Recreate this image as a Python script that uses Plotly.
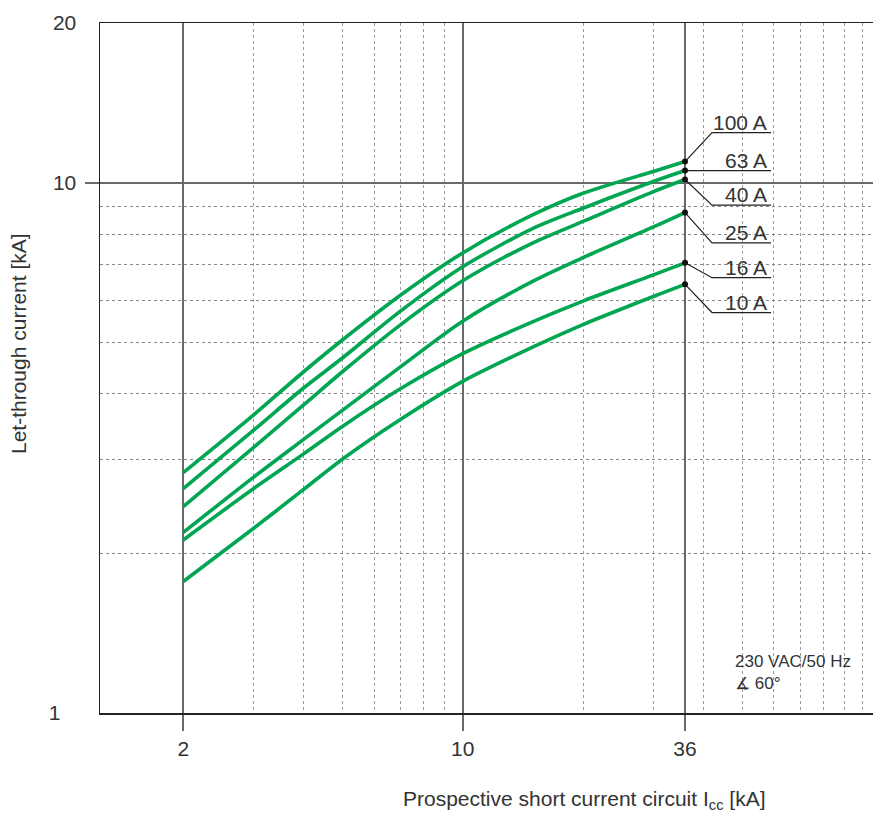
import math
import plotly.graph_objects as go

# ---------------- data ----------------
x_kA = [2, 3, 4, 5, 7, 10, 15, 20, 30, 36]
ratings = ["100 A", "63 A", "40 A", "25 A", "16 A", "10 A"]
i_100 = [2.84, 3.65, 4.40, 5.05, 6.14, 7.37, 8.70, 9.55, 10.50, 10.96]
i_63 = [2.65, 3.415, 4.10, 4.67, 5.73, 6.94, 8.20, 8.95, 10.05, 10.54]
i_40 = [2.45, 3.17, 3.81, 4.40, 5.40, 6.53, 7.70, 8.45, 9.62, 10.14]
i_25 = [2.19, 2.785, 3.28, 3.72, 4.50, 5.48, 6.52, 7.22, 8.25, 8.78]
i_16 = [2.12, 2.65, 3.08, 3.47, 4.09, 4.76, 5.47, 5.98, 6.70, 7.06]
i_10 = [1.77, 2.23, 2.64, 3.01, 3.58, 4.22, 4.90, 5.40, 6.10, 6.43]
series = [i_100, i_63, i_40, i_25, i_16, i_10]

x_tickvals = [2, 10, 36]
x_ticktext = ["2", "10", "36"]
x_minor = [3, 4, 5, 6, 7, 8, 9, 20, 30, 40, 50, 60, 70, 80, 90, 100]
y_tickvals = [1, 10, 20]
y_ticktext = ["1\u2007\u2009", "10", "20"]
y_minor = [2, 3, 4, 5, 6, 7, 8, 9]

# ---------------- layout constants ----------------
W, H = 873, 814
ML, MR, MT, MB = 100, 0, 23, 101
PW, PH = W - ML - MR, H - MT - MB
PX_PER_DEC_X = 399.7
XR = [math.log10(2) - (183.3 - ML) / PX_PER_DEC_X, 0]
XR[1] = XR[0] + PW / PX_PER_DEC_X
YR = [0, math.log10(20)]

def px_to_x(px):
    return 10 ** (XR[0] + (px - ML) / PW * (XR[1] - XR[0]))

def paper_x(px):
    return (px - ML) / PW

def paper_y(py):
    return (H - MB - py) / PH

# label layout (levels in kA on the y scale, pixel extents for underline)
label_level = [12.43, 10.54, 9.07, 7.70, 6.62, 5.69]
LEAD_END_PX, UNDER_END_PX = 712, 771

FONT = "Liberation Sans, Arial, Helvetica, sans-serif"
TXT = "#333333"
GREEN = "#00a651"

fig = go.Figure()

for s, name in zip(series, ratings):
    fig.add_trace(go.Scatter(
        x=x_kA, y=s, mode="lines", name=name,
        line=dict(color=GREEN, width=3.6, shape="spline", smoothing=0.8),
        hoverinfo="skip", showlegend=False))

# leader lines from each curve end to its label underline
for s, lvl in zip(series, label_level):
    fig.add_trace(go.Scatter(
        x=[x_kA[-1], px_to_x(LEAD_END_PX), px_to_x(UNDER_END_PX)],
        y=[s[-1], lvl, lvl], mode="lines",
        line=dict(color="#222222", width=1.2),
        hoverinfo="skip", showlegend=False))

# end dots
fig.add_trace(go.Scatter(
    x=[x_kA[-1]] * len(series), y=[s[-1] for s in series], mode="markers",
    marker=dict(color="#111111", size=6), yaxis="y2",
    hoverinfo="skip", showlegend=False))

annotations = []
for name, lvl in zip(ratings, label_level):
    annotations.append(dict(
        xref="paper", yref="paper", x=paper_x(UNDER_END_PX - 2),
        y=(math.log10(lvl) - YR[0]) / (YR[1] - YR[0]),
        text=name, showarrow=False, xanchor="right", yanchor="bottom",
        font=dict(family=FONT, size=21, color=TXT), yshift=-3))

annotations.append(dict(
    xref="paper", yref="paper", x=paper_x(733), y=paper_y(650),
    text="230 VAC/50 Hz<br>\u2221 60°", showarrow=False, xanchor="left",
    yanchor="top", align="left", font=dict(family=FONT, size=17, color=TXT)))

annotations.append(dict(
    xref="paper", yref="paper", x=paper_x(584), y=paper_y(800),
    text="Prospective short current circuit I<sub>cc</sub> [kA]",
    showarrow=False, xanchor="center", yanchor="middle",
    font=dict(family=FONT, size=21, color=TXT)))

annotations.append(dict(
    xref="paper", yref="paper", x=paper_x(18), y=paper_y(344),
    text="Let-through current [kA]", textangle=-90,
    showarrow=False, xanchor="center", yanchor="middle",
    font=dict(family=FONT, size=21, color=TXT)))

shapes = [
    dict(type="rect", xref="paper", yref="paper", layer="between",
         x0=paper_x(699), x1=paper_x(775), y0=paper_y(322), y1=paper_y(105),
         fillcolor="white", line=dict(width=0)),
    dict(type="rect", xref="paper", yref="paper", layer="between",
         x0=paper_x(728), x1=paper_x(873), y0=paper_y(697), y1=paper_y(645),
         fillcolor="white", line=dict(width=0)),
]

fig.update_layout(
    width=W, height=H, margin=dict(l=ML, r=MR, t=MT, b=MB),
    paper_bgcolor="white", plot_bgcolor="white",
    font=dict(family=FONT, size=21, color=TXT),
    annotations=annotations, shapes=shapes,
    xaxis=dict(
        type="log", range=XR, tickmode="array", tickvals=x_tickvals,
        ticktext=x_ticktext, ticks="outside", ticklen=16, tickwidth=2,
        tickcolor="#6a6a6a", showgrid=True, gridcolor="#6a6a6a", gridwidth=2,
        showline=True, linecolor="#222222", linewidth=1.5, mirror=True,
        zeroline=False, tickfont=dict(family=FONT, size=21, color=TXT),
        minor=dict(tickmode="array", tickvals=x_minor, showgrid=True,
                   gridcolor="#9a9a9a", griddash="dot", gridwidth=1, ticks="")),
    yaxis=dict(
        type="log", range=YR, tickmode="array", tickvals=y_tickvals,
        ticktext=y_ticktext, ticks="", showgrid=True, gridcolor="#6a6a6a",
        gridwidth=2, showline=True, linecolor="#222222", linewidth=1.5,
        zeroline=False, ticklabelstandoff=18,
        tickfont=dict(family=FONT, size=21, color=TXT),
        minor=dict(tickmode="array", tickvals=y_minor, showgrid=True,
                   gridcolor="#888888", griddash="dot", gridwidth=1, ticks="")),
    yaxis2=dict(
        type="log", range=YR, overlaying="y", side="left", tickmode="array",
        tickvals=[10], ticks="outside", ticklen=14, tickwidth=2,
        tickcolor="#6a6a6a", showticklabels=False, showgrid=False,
        showline=False, zeroline=False),
)

fig.write_html(
    "out.html",
    config={"displayModeBar": False, "staticPlot": True},
    post_script="document.body.style.margin='0';document.body.style.overflow='hidden';",
)
